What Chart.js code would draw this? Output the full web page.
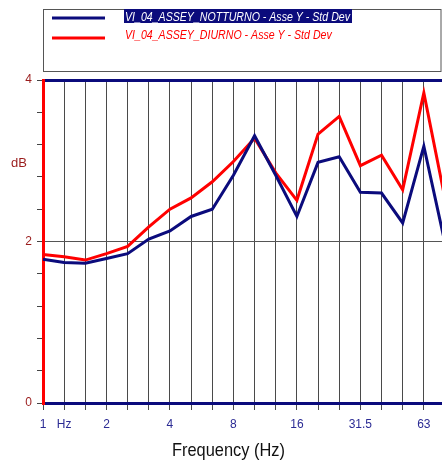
<!DOCTYPE html>
<html>
<head>
<meta charset="utf-8">
<script src="https://cdn.jsdelivr.net/npm/chart.js@4/dist/chart.umd.min.js"></script>
<style>
  html, body { margin: 0; padding: 0; overflow: hidden; background: #fff; }
  canvas { display: block; }
</style>
</head>
<body>
<canvas id="c" width="452" height="464"></canvas>
<script>
// One-third octave band centre frequencies (Hz)
const bands = ['1','1.25','1.6','2','2.5','3.15','4','5','6.3','8','10','12.5','16','20','25','31.5','40','50','63','80'];
// Labels printed under the frequency axis (blank = tick only)
const bandTickLabels = ['1','Hz','','2','','','4','','','8','','','16','','','31.5','','','63',''];

// Standard deviation, Y axis, night-time measurement (dB)
const notturno = [1.78, 1.74, 1.73, 1.79, 1.85, 2.03, 2.13, 2.31, 2.40, 2.82, 3.31, 2.82, 2.31, 2.98, 3.05, 2.61, 2.60, 2.23, 3.18, 1.98];
// Standard deviation, Y axis, day-time measurement (dB)
const diurno   = [1.84, 1.81, 1.77, 1.85, 1.94, 2.18, 2.40, 2.54, 2.74, 2.99, 3.28, 2.85, 2.51, 3.33, 3.55, 2.94, 3.07, 2.64, 3.84, 2.53];

const seriesNames = ['VI_04_ASSEY_NOTTURNO - Asse Y - Std Dev', 'VI_04_ASSEY_DIURNO - Asse Y - Std Dev'];
const yLabelled = [0, 2, 4];

const NAVY = '#0b0b7c';
const RED = '#ff0000';
const AXIS_RED = '#9a1c1c';
const TICK_BLUE = '#2b2b94';

// Draws text squeezed horizontally to a given width
function fitText(ctx, text, x, y, width) {
  const w = ctx.measureText(text).width;
  ctx.save();
  ctx.translate(x, y);
  ctx.scale(width / w, 1);
  ctx.fillText(text, 0, 0);
  ctx.restore();
}

const decorations = {
  id: 'decorations',
  afterDraw(chart) {
    const ctx = chart.ctx;
    const ds = chart.data.datasets;
    ctx.save();

    // legend frame
    ctx.strokeStyle = '#555';
    ctx.lineWidth = 1;
    ctx.strokeRect(43.5, 9.5, 397.5, 62);

    ctx.font = 'italic 13px "Liberation Sans", Arial, sans-serif';
    ctx.textBaseline = 'alphabetic';
    ctx.textAlign = 'left';
    const scaleW = 225 / ctx.measureText(ds[0].label).width;

    // entry 1 (highlighted)
    ctx.strokeStyle = ds[0].borderColor;
    ctx.lineWidth = 3;
    ctx.beginPath(); ctx.moveTo(52, 18); ctx.lineTo(105, 18); ctx.stroke();
    ctx.fillStyle = NAVY;
    ctx.fillRect(124, 9, 228, 14);
    ctx.fillStyle = '#fff';
    fitText(ctx, ds[0].label, 125, 21.3, ctx.measureText(ds[0].label).width * scaleW);

    // entry 2
    ctx.strokeStyle = ds[1].borderColor;
    ctx.beginPath(); ctx.moveTo(52, 38); ctx.lineTo(105, 38); ctx.stroke();
    ctx.fillStyle = RED;
    fitText(ctx, ds[1].label, 125, 39.3, ctx.measureText(ds[1].label).width * scaleW);

    // unit label of the level axis
    ctx.font = '13px "Liberation Sans", Arial, sans-serif';
    ctx.fillStyle = AXIS_RED;
    ctx.textAlign = 'center';
    ctx.fillText('dB', 19, 167);

    // frequency axis title
    ctx.font = '19px "Liberation Sans", Arial, sans-serif';
    ctx.fillStyle = '#111';
    ctx.textAlign = 'left';
    fitText(ctx, 'Frequency (Hz)', 172, 456, 113);

    ctx.restore();
  }
};

new Chart(document.getElementById('c'), {
  type: 'line',
  data: {
    labels: bands,
    datasets: [
      { label: seriesNames[0], data: notturno, borderColor: NAVY, borderWidth: 3, pointRadius: 0, tension: 0, fill: false },
      { label: seriesNames[1], data: diurno, borderColor: RED, borderWidth: 3, pointRadius: 0, tension: 0, fill: false }
    ]
  },
  options: {
    responsive: false,
    animation: false,
    events: [],
    layout: { padding: { top: 80, left: 0, right: 3, bottom: 0 } },
    plugins: { legend: { display: false }, tooltip: { enabled: false }, title: { display: false } },
    scales: {
      x: {
        type: 'category',
        offset: false,
        afterFit(s) { s.height = 61; },
        grid: { offset: false, color: '#4a4a4a', lineWidth: 1, tickLength: 7, tickColor: '#4a4a4a' },
        border: { color: NAVY, width: 3 },
        ticks: {
          autoSkip: false, maxRotation: 0, minRotation: 0, padding: 7,
          color: TICK_BLUE,
          font: { family: '"Liberation Sans", Arial, sans-serif', size: 12 },
          callback: (v, i) => bandTickLabels[i]
        }
      },
      y: {
        min: 0, max: 4,
        afterFit(s) { s.width = 43; },
        grid: {
          color: c => {
            const v = Math.round(c.tick.value * 10) / 10;
            if (v === 0 || v === 4) return NAVY;
            if (v === 2) return '#555';
            return 'rgba(0,0,0,0)';
          },
          lineWidth: c => {
            const v = Math.round(c.tick.value * 10) / 10;
            return (v === 0 || v === 4) ? 3 : 1;
          },
          tickColor: '#444', tickWidth: 1, tickLength: 6
        },
        border: { color: RED, width: 3 },
        ticks: {
          stepSize: 0.4, padding: 5,
          color: AXIS_RED,
          font: { family: '"Liberation Sans", Arial, sans-serif', size: 12 },
          callback: v => {
            const r = Math.round(v);
            return (Math.abs(v - r) < 1e-6 && yLabelled.includes(r)) ? String(r) : '';
          }
        }
      }
    }
  },
  plugins: [decorations]
});
</script>
</body>
</html>
